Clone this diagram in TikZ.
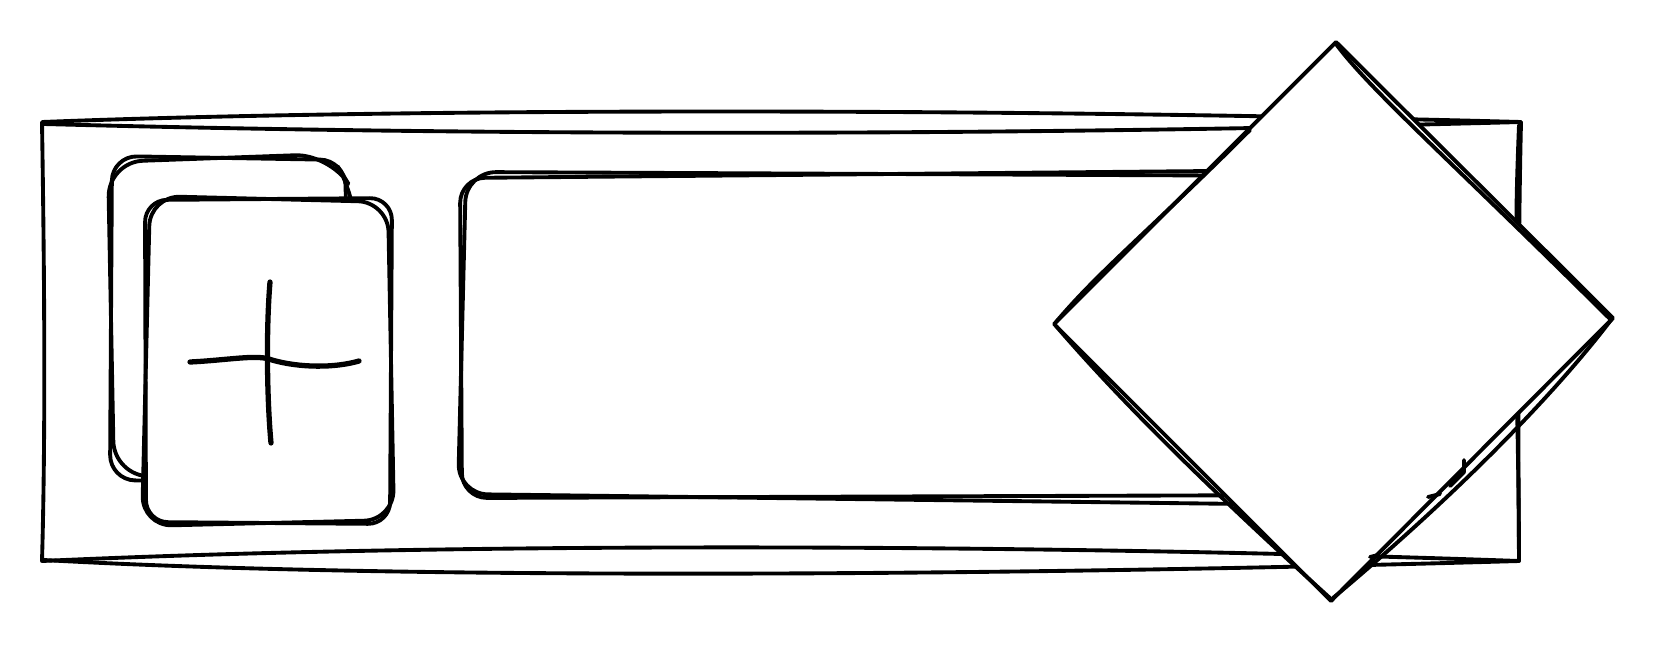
\documentclass[tikz,border=0pt]{standalone}
\usetikzlibrary{positioning}
\tikzset{
  sketch/.style={draw=black, line width=1.1pt, line cap=round, line join=round},
}
\begin{document}
\begin{tikzpicture}[x=0.01cm, y=-0.01cm]
\useasboundingbox (0,0) rectangle (1660,648);
% Outer frame
\draw[sketch] (42,122) .. controls (400,108) and (1000,108) .. (1521,122)
  .. controls (1518,250) and (1518,420) .. (1519,561)
  .. controls (1100,546) and (500,540) .. (42,561)
  .. controls (46,420) and (44,250) .. (42,122) -- cycle;
\draw[sketch] (44,124) .. controls (500,136) and (1000,136) .. (1521,122);
\draw[sketch] (44,560) .. controls (400,580) and (1000,576) .. (1519,561);
\draw[sketch] (1519,125) .. controls (1516,200) and (1516,230) .. (1517,260);
\draw[sketch] (1517,405) .. controls (1518,450) and (1519,520) .. (1519,559);
% Back card
\draw[sketch, rounded corners=0.25cm] (112,156) -- (345,160) -- (352,484) -- (110,480) -- cycle;
\draw[sketch, rounded corners=0.35cm] (108,162) -- (330,154) -- (356,196) -- (350,478) -- (114,476) -- cycle;
% Front card
\draw[sketch, fill=white, rounded corners=0.22cm] (145,200) -- (392,198) -- (390,524) -- (146,522) -- cycle;
\draw[sketch, rounded corners=0.3cm] (150,196) -- (388,202) -- (394,520) -- (142,526) -- cycle;
% Plus sign
\draw[sketch, line width=1.5pt] (190,362) .. controls (230,360) and (258,354) .. (272,360)
  .. controls (300,368) and (335,368) .. (359,361);
\draw[sketch, line width=1.5pt] (270,282) .. controls (266,330) and (267,400) .. (271,443);
% Long box
\draw[sketch, rounded corners=0.25cm] (460,178) -- (1320,170) -- (1320,495) -- (462,498) -- cycle;
\draw[sketch, rounded corners=0.3cm] (466,172) -- (1320,176) -- (1322,505) -- (458,494) -- cycle;
% Diamond
\draw[sketch, fill=white] (1336,42) -- (1613,318) -- (1331,601) -- (1054,324) -- cycle;
\draw[sketch] (1336,44) .. controls (1370,90) and (1450,160) .. (1611,320)
  .. controls (1550,400) and (1450,500) .. (1333,598);
\draw[sketch] (1056,326) .. controls (1120,400) and (1200,480) .. (1331,599);
\draw[sketch] (1056,322) .. controls (1100,270) and (1150,230) .. (1250,130);
% Small marks
\draw[sketch] (1464,460) -- (1464,472) -- (1450,486);
\draw[sketch] (1440,494) -- (1428,497);
\draw[sketch] (1378,555) -- (1370,557);
\end{tikzpicture}
\end{document}
